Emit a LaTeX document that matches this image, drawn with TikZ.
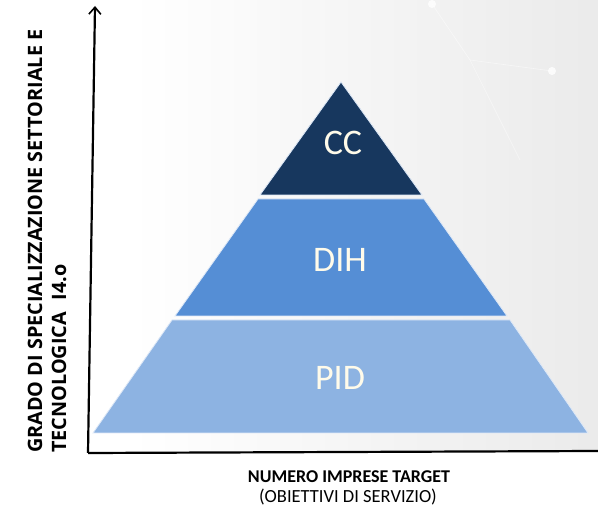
\documentclass[tikz,border=0pt]{standalone}
\usepackage{fontspec}
\setmainfont{Carlito}
\newfontfamily\axisfont{Open Sans}
\usetikzlibrary{arrows.meta}
\definecolor{ccblue}{HTML}{17375E}
\definecolor{dihblue}{HTML}{558ED5}
\definecolor{pidblue}{HTML}{8DB3E2}
\definecolor{labelcream}{HTML}{FFFBEA}
\tikzset{
  layer/.style={draw=white!80!dihblue, line width=0.8pt},
  levellabel/.style={text=labelcream, font=\fontsize{36}{36}\selectfont, inner sep=0pt},
  axis/.style={line width=2.2pt, black},
  axistitle/.style={font=\axisfont\bfseries\fontsize{19.8}{22}\selectfont, inner sep=0pt, anchor=west},
}
\begin{document}
\begin{tikzpicture}[x=1pt,y=-1pt]
\useasboundingbox (0,0) rectangle (598,510);
% background
\fill[white] (0,0) rectangle (598,510);
\shade[left color=white, right color=black!8] (130,0) rectangle (598,452);
% faint network decoration
\draw[white, line width=0.6pt, opacity=0.5] (432,4) -- (470,60) -- (552,71) (470,60) -- (520,160);
\fill[white, opacity=0.8] (432,4) circle (4);
\fill[white, opacity=0.8] (552,71) circle (4);
% pyramid
\fill[pidblue, layer] (172,320) -- (510,320) -- (588,433) -- (93,433) -- cycle;
\fill[dihblue, layer] (258,199) -- (424,199) -- (507,316) -- (175,316) -- cycle;
\fill[ccblue, layer] (341,82) -- (422,195) -- (260,195) -- cycle;
\node[levellabel] (cc) at (343,143) {CC};
\node[levellabel] (dih) at (340,260) {DIH};
\node[levellabel] (pid) at (340,378) {PID};
% axes
\coordinate (o) at (88,453);
\coordinate (ytop) at (95,6);
\coordinate (xend) at (598,451);
\draw[axis, -{Straight Barb[length=7pt,width=12pt,line width=1.6pt]}] (o) -- (ytop);
\draw[axis] (o) -- (xend);
% axis titles
\node[axistitle, rotate=90] (yt1) at (35,453) {GRADO DI SPECIALIZZAZIONE SETTORIALE E};
\node[axistitle, rotate=90] (yt2) at (59,453) {TECNOLOGICA\hspace{12pt}I4.o};
\node[font=\bfseries\fontsize{18}{20}\selectfont, inner sep=0pt] (xt1) at (349,477) {NUMERO IMPRESE TARGET};
\node[font=\fontsize{18.5}{20}\selectfont, inner sep=0pt] (xt2) at (348,497) {(OBIETTIVI DI SERVIZIO)};
\end{tikzpicture}
\end{document}
